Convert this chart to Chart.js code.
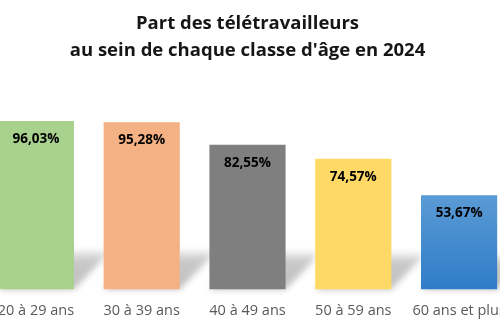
<!DOCTYPE html>
<html>
<head>
<meta charset="utf-8">
<script src="https://cdn.jsdelivr.net/npm/chart.js@4"></script>
<style>
  html, body { margin: 0; padding: 0; background: #fff; overflow: hidden; }
  #wrap { position: absolute; left: -17px; top: 0; width: 529px; height: 323px; }
</style>
</head>
<body>
<div id="wrap"><canvas id="chartTele"></canvas></div>
<script>
var categories = ['20 à 29 ans', '30 à 39 ans', '40 à 49 ans', '50 à 59 ans', '60 ans et plus'];
var values = [96.03, 95.28, 82.55, 74.57, 53.67];
var valueLabels = ['96,03%', '95,28%', '82,55%', '74,57%', '53,67%'];
var titleLines = ['Part des télétravailleurs', "au sein de chaque classe d'âge en 2024"];

var barColors = ['#A9D18E', '#F4B183', '#7F7F7F', '#FFD966', null];

// ombre en perspective derriere chaque barre
var shadowPlugin = {
    id: 'barShadow',
    beforeDatasetsDraw: function(chart) {
        var ctx = chart.ctx;
        var meta = chart.getDatasetMeta(0);
        ctx.save();
        ctx.filter = 'blur(3px)';
        meta.data.forEach(function(bar) {
            var half = bar.width / 2;
            var h = 28 + 0.07 * (bar.base - bar.y);
            var dx = h * 0.95;
            var g = ctx.createLinearGradient(0, bar.base, 0, bar.base - h);
            g.addColorStop(0, 'rgba(0,0,0,0.25)');
            g.addColorStop(0.75, 'rgba(0,0,0,0.21)');
            g.addColorStop(1, 'rgba(0,0,0,0.04)');
            ctx.fillStyle = g;
            ctx.beginPath();
            ctx.moveTo(bar.x - half, bar.base);
            ctx.lineTo(bar.x + half, bar.base);
            ctx.lineTo(bar.x + half + dx, bar.base - h);
            ctx.lineTo(bar.x - half + dx, bar.base - h);
            ctx.closePath();
            ctx.fill();
        });
        ctx.restore();
    }
};

// etiquettes de valeur en haut des barres
var labelPlugin = {
    id: 'valueLabels',
    afterDatasetsDraw: function(chart) {
        var ctx = chart.ctx;
        var meta = chart.getDatasetMeta(0);
        ctx.save();
        ctx.font = 'bold 13.5px "Open Sans"';
        ctx.fillStyle = '#000';
        ctx.textAlign = 'center';
        ctx.textBaseline = 'middle';
        meta.data.forEach(function(bar, i) {
            ctx.fillText(valueLabels[i], bar.x, bar.y + 18);
        });
        ctx.restore();
    }
};

function blueFill(c) {
    var area = c.chart.chartArea;
    var ys = c.chart.scales.y;
    if (!area || !ys) return '#4A8BCF';
    var top = ys.getPixelForValue(values[c.dataIndex]);
    if (!isFinite(top) || !isFinite(area.bottom)) return '#4A8BCF';
    var g = c.chart.ctx.createLinearGradient(0, top, 0, area.bottom);
    g.addColorStop(0, '#5B9BD5');
    g.addColorStop(1, '#2F7CC8');
    return g;
}

document.addEventListener('DOMContentLoaded', function() {
    var ctx = document.getElementById('chartTele').getContext('2d');
    new Chart(ctx, {
        type: 'bar',
        data: {
            labels: categories,
            datasets: [{
                data: values,
                backgroundColor: function(c) {
                    if (c.dataIndex === 4) return blueFill(c);
                    return barColors[c.dataIndex];
                },
                borderWidth: 0,
                barPercentage: 0.72,
                categoryPercentage: 1
            }]
        },
        options: {
            responsive: true,
            maintainAspectRatio: false,
            animation: false,
            layout: { padding: { left: 0, right: 0, top: 0, bottom: -10 } },
            plugins: {
                legend: { display: false },
                tooltip: { enabled: false },
                title: {
                    display: true,
                    text: titleLines,
                    color: '#161616',
                    font: { family: 'Open Sans', size: 18.5, weight: 'bold', lineHeight: 1.46 },
                    padding: { top: 10, bottom: 50 }
                }
            },
            scales: {
                x: {
                    grid: { display: false, drawTicks: false },
                    border: { display: false },
                    ticks: { color: '#595959', padding: 13, font: { family: 'Open Sans', size: 14.5 }, maxRotation: 0, autoSkip: false },
                    afterFit: function(scale) {
                        scale.paddingLeft = 0;
                        scale.paddingRight = 0;
                    }
                },
                y: { display: false, min: 0, max: 100 }
            }
        },
        plugins: [shadowPlugin, labelPlugin]
    });
});
</script>
</body>
</html>
